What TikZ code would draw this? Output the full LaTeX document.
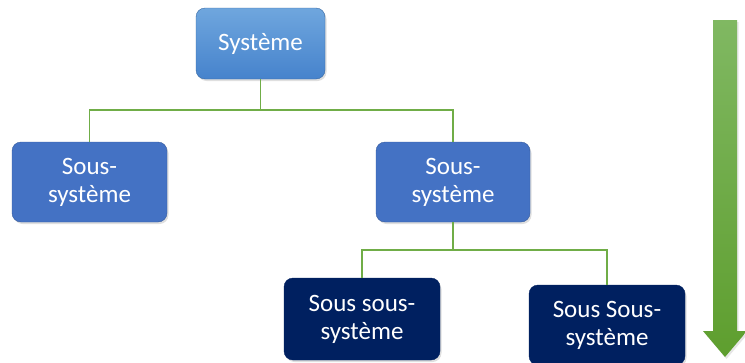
\documentclass[tikz,border=0pt]{standalone}
\usepackage{fontspec}
\setmainfont{Carlito}
\usetikzlibrary{shadows,calc}
\definecolor{topblue}{HTML}{6FA6DE}
\definecolor{topblueb}{HTML}{4683CC}
\definecolor{midblue}{HTML}{4472C4}
\definecolor{navy}{HTML}{002060}
\definecolor{linkgreen}{HTML}{70AD47}
\definecolor{arrowtop}{HTML}{80B862}
\definecolor{arrowbot}{HTML}{5E9E2E}
\tikzset{
  box/.style={rounded corners=9pt, align=center, text=white,
    font=\fontsize{25}{28}\selectfont,
    drop shadow={shadow xshift=1.5pt, shadow yshift=-2pt, opacity=0.25}},
  rootbox/.style={box, top color=topblue, bottom color=topblueb, draw=topblueb!80!black, line width=0.4pt},
  subbox/.style={box, fill=midblue, draw=midblue!80!black, line width=0.4pt},
  leafbox/.style={box, fill=navy, draw=navy, line width=0.4pt},
  conn/.style={draw=linkgreen, line width=1.6pt}
}
\begin{document}
\begin{tikzpicture}[x=1pt,y=-1pt]
\useasboundingbox (0,0) rectangle (745,362);

% hierarchy boxes
\node[rootbox, minimum width=129pt, minimum height=71pt] (sys) at (260.5,43.5) {Système};
\node[subbox, minimum width=155pt, minimum height=80pt] (ssa) at (89.5,182) {Sous-\\système};
\node[subbox, minimum width=154pt, minimum height=80pt] (ssb) at (453,182) {Sous-\\système};
\node[leafbox, minimum width=156pt, minimum height=82pt] (ssba) at (362,319) {Sous sous-\\système};
\node[leafbox, minimum width=156pt, minimum height=80pt] (ssbb) at (607,325) {Sous Sous-\\système};

% bus levels
\coordinate (busone) at (0,110);
\coordinate (bustwo) at (0,250);

% connectors
\draw[conn] (sys.south) -- (sys.south |- busone) -| (ssa.north);
\draw[conn] (sys.south |- busone) -| (ssb.north);
\draw[conn] (ssb.south) -- (ssb.south |- bustwo) -| (ssba.north);
\draw[conn] (ssb.south |- bustwo) -| (ssbb.north);

% downward arrow on the right
\shade[top color=arrowtop, bottom color=arrowbot,
  drop shadow={shadow xshift=1.5pt, shadow yshift=-2pt, opacity=0.2}]
  (713,20) -- (737,20) -- (737,331) -- (747,331) -- (725,357) -- (703,331) -- (713,331) -- cycle;
\end{tikzpicture}
\end{document}
